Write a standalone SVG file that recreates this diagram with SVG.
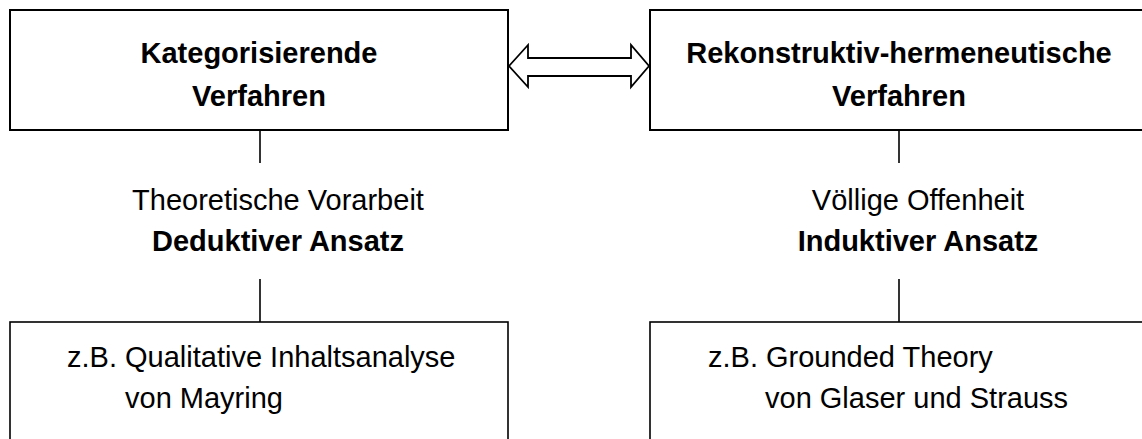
<svg xmlns="http://www.w3.org/2000/svg" width="1142" height="439" viewBox="0 0 1142 439">
  <style>
    .box { fill: #ffffff; stroke: #000000; stroke-width: 2; }
    .sub { fill: #ffffff; stroke: #000000; stroke-width: 1.6; }
    .link { stroke: #000000; stroke-width: 1.6; fill: none; }
    .arrow { fill: #ffffff; stroke: #000000; stroke-width: 1.8; stroke-linejoin: miter; }
    text { font-family: "Liberation Sans", Arial, sans-serif; font-size: 29px; fill: #000000; }
    .b { font-weight: bold; }
    .c { text-anchor: middle; }
  </style>

  <rect width="1142" height="439" fill="#ffffff"/>

  <!-- connectors -->
  <g id="connectors">
    <line class="link" x1="260" y1="130" x2="260" y2="163"/>
    <line class="link" x1="260" y1="279" x2="260" y2="322"/>
    <line class="link" x1="899" y1="130" x2="899" y2="163"/>
    <line class="link" x1="899" y1="279" x2="899" y2="322"/>
    <polygon class="arrow" points="509,66 528,45 528,58 631,58 631,45 649,66 631,87 631,76 528,76 528,87"/>
  </g>

  <g id="kategorisierend">
    <rect class="box" x="10" y="10" width="498" height="120"/>
    <text class="b c" x="259" y="63">Kategorisierende</text>
    <text class="b c" x="259" y="106">Verfahren</text>
  </g>

  <g id="rekonstruktiv">
    <rect class="box" x="650" y="10" width="498" height="120"/>
    <text class="b c" x="899" y="63">Rekonstruktiv-hermeneutische</text>
    <text class="b c" x="899" y="106">Verfahren</text>
  </g>

  <g id="deduktiv">
    <text class="c" x="278" y="210">Theoretische Vorarbeit</text>
    <text class="b c" x="278" y="251">Deduktiver Ansatz</text>
  </g>

  <g id="induktiv">
    <text class="c" x="918" y="210">Völlige Offenheit</text>
    <text class="b c" x="918" y="251">Induktiver Ansatz</text>
  </g>

  <g id="mayring">
    <rect class="sub" x="10" y="322" width="498" height="130"/>
    <text x="67" y="367">z.B. Qualitative Inhaltsanalyse</text>
    <text x="125" y="408">von Mayring</text>
  </g>

  <g id="grounded-theory">
    <rect class="sub" x="650" y="322" width="498" height="130"/>
    <text x="708" y="367">z.B. Grounded Theory</text>
    <text x="765" y="408">von Glaser und Strauss</text>
  </g>
</svg>
